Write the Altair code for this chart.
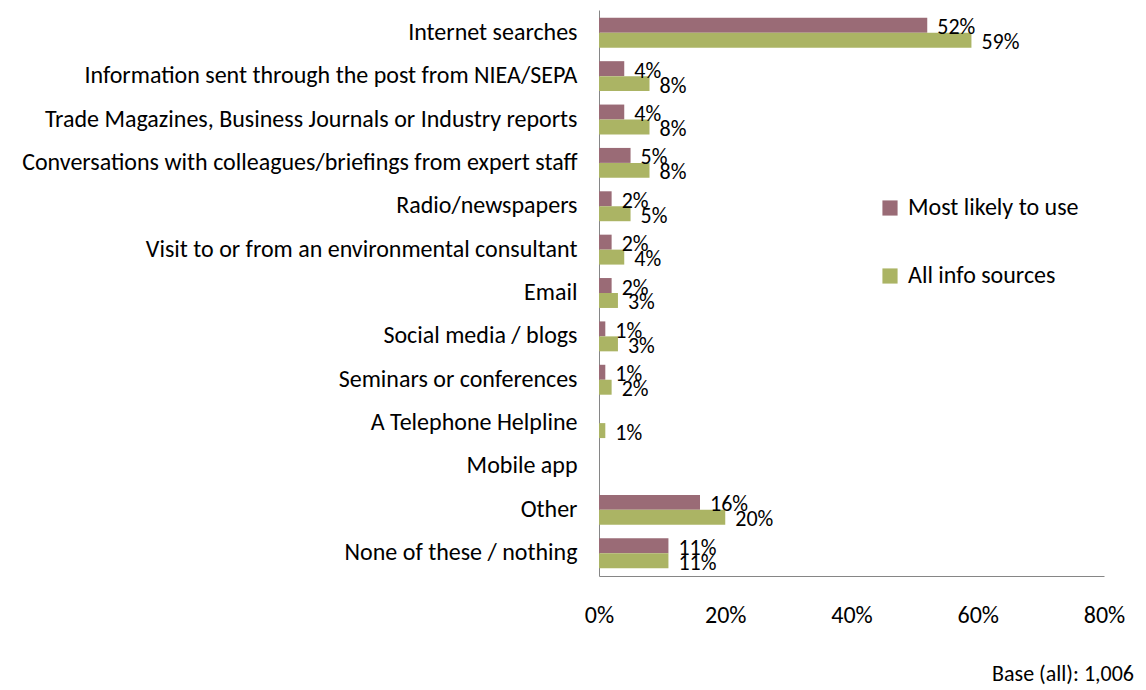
import altair as alt
import pandas as pd

categories = [
    "Internet searches",
    "Information sent through the post from NIEA/SEPA",
    "Trade Magazines, Business Journals or Industry reports",
    "Conversations with colleagues/briefings from expert staff",
    "Radio/newspapers",
    "Visit to or from an environmental consultant",
    "Email",
    "Social media / blogs",
    "Seminars or conferences",
    "A Telephone Helpline",
    "Mobile app",
    "Other",
    "None of these / nothing",
]
most_likely = [52, 4, 4, 5, 2, 2, 2, 1, 1, None, None, 16, 11]
all_sources = [59, 8, 8, 8, 5, 4, 3, 3, 2, 1, None, 20, 11]
series = ["Most likely to use", "All info sources"]
colors = ["#9a6b76", "#abb464"]

rows = []
for c, a, b in zip(categories, most_likely, all_sources):
    for s, v in zip(series, [a, b]):
        if v is not None:
            rows.append({"cat": c, "series": s, "value": v / 100.0, "label": f"{v}%"})
df = pd.DataFrame(rows)

FONT = "Carlito, Liberation Sans, Arial"

y_enc = alt.Y("cat:N", sort=categories, title=None,
              scale=alt.Scale(domain=categories, paddingInner=0.31, paddingOuter=0.18),
              axis=alt.Axis(domainColor="#868686", domainWidth=1, ticks=False,
                            labelFontSize=24, labelFont=FONT, labelColor="#000000",
                            labelPadding=22, labelLimit=1000))
yoff = alt.YOffset("series:N", sort=series, scale=alt.Scale(domain=series))
x_enc = alt.X("value:Q", title=None,
              scale=alt.Scale(domain=[0, 0.8]),
              axis=alt.Axis(format=".0%", values=[0, 0.2, 0.4, 0.6, 0.8], grid=False,
                            ticks=False, domainColor="#868686", labelFontSize=24,
                            labelFont=FONT, labelColor="#000000", labelPadding=27,
                            labelFlush=False))

bars = alt.Chart(df).mark_bar().encode(
    y=y_enc, yOffset=yoff, x=x_enc,
    color=alt.Color("series:N", sort=series,
                    scale=alt.Scale(domain=series, range=colors),
                    legend=alt.Legend(title=None, orient="none", legendX=279, legendY=186,
                                      symbolType="square", symbolSize=230,
                                      symbolStrokeWidth=0, labelLimit=400,
                                      labelFontSize=24, labelFont=FONT,
                                      labelColor="#000000", rowPadding=44,
                                      labelOffset=6)),
)

labels = alt.Chart(df).mark_text(align="left", baseline="middle", dx=10, dy=2,
                                 fontSize=22, font=FONT, color="#000000").encode(
    y=alt.Y("cat:N", sort=categories), yOffset=yoff, x="value:Q", text="label:N"
)

chart = (bars + labels).properties(
    width=505, height=566,
    padding={"left": 591, "top": 2, "right": 34, "bottom": 112},
    autosize=alt.AutoSizeParams(type="none"),
    title=alt.TitleParams("Base (all): 1,006", orient="bottom", anchor="end",
                          frame="group",
                          fontSize=22, font=FONT, fontWeight="normal",
                          color="#000000", offset=37, dx=30),
).configure_view(stroke=None)

chart.save("out.html", embed_options={"renderer": "svg", "actions": False})
